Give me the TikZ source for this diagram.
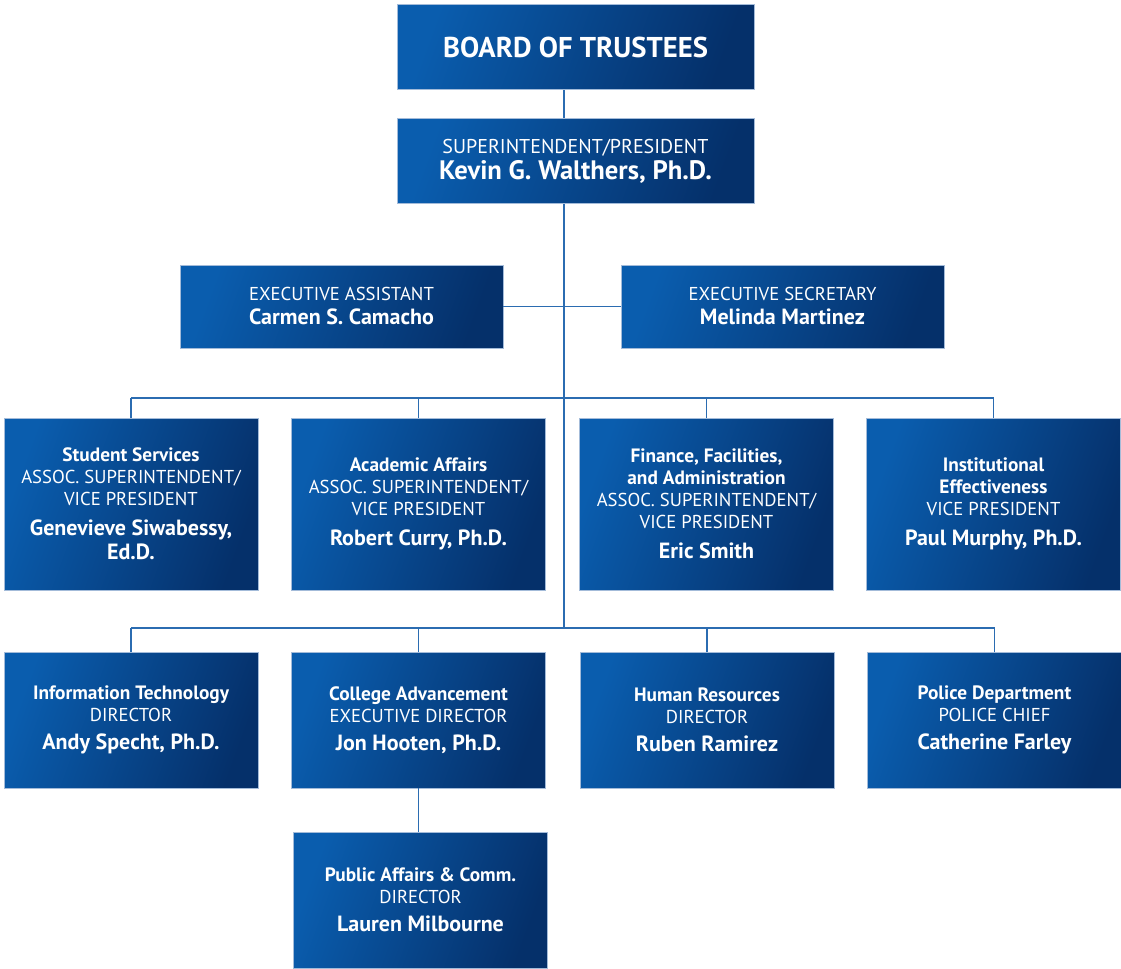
\documentclass[tikz,border=0pt]{standalone}
\usepackage{fontspec}
\setmainfont{PT Sans}
\usetikzlibrary{positioning}

\definecolor{boxlight}{HTML}{0A5DAE}
\definecolor{boxdark}{HTML}{05306A}
\definecolor{boxedge}{HTML}{A3BBD9}
\definecolor{linkblue}{HTML}{2B6CB1}

\newcommand{\dept}[1]{{\fontsize{14.5}{16.5}\selectfont\bfseries #1}}
\newcommand{\who}[1]{{\fontsize{16.5}{18}\selectfont\bfseries #1}}

\begin{document}
\begin{tikzpicture}[
		x=0.75pt, y=-0.75pt,
		every node/.style={font=\fontsize{14}{16.5}\selectfont},
		unitbox/.style={
			rectangle,
			draw=boxedge,
			line width=0.5pt,
			left color=boxlight,
			right color=boxdark,
			shading angle=70,
			text=white,
			align=center,
			inner sep=0pt
		},
		topbox/.style={unitbox, minimum width=267.75pt, minimum height=64pt},
		aidebox/.style={unitbox, minimum width=242.25pt, minimum height=62.25pt},
		vpbox/.style={unitbox, minimum width=190.5pt, minimum height=129pt},
		dirbox/.style={unitbox, minimum width=190.5pt, minimum height=102pt},
		link/.style={draw=linkblue, line width=1.4pt}
		]
		
		\useasboundingbox (0,0) rectangle (1121,968);
		
		% Nodes
		\node[topbox] (board) at (575.5,47) {\fontsize{21.5}{24}\selectfont\bfseries BOARD OF TRUSTEES};
		
		\node[topbox] (president) at (575.5,161) {{\fontsize{15}{17}\selectfont SUPERINTENDENT/PRESIDENT}\\[3pt]
			{\fontsize{20}{22}\selectfont\bfseries Kevin G. Walthers, Ph.D.}};
		
		\node[aidebox] (assistant) at (341.5,306.5) {EXECUTIVE ASSISTANT\\[1.5pt] \who{Carmen S. Camacho}};
		\node[aidebox] (secretary) at (782.5,306.5) {EXECUTIVE SECRETARY\\[1.5pt] \who{Melinda Martinez}};
		
		\node[vpbox] (students) at (131,504) {\dept{Student Services}\\ ASSOC. SUPERINTENDENT/\\ VICE PRESIDENT\\[6pt]
			\who{Genevieve Siwabessy,}\\[1.5pt] \who{Ed.D.}};
		\node[vpbox] (academic) at (418.5,504) {\dept{Academic Affairs}\\ ASSOC. SUPERINTENDENT/\\ VICE PRESIDENT\\[6pt]
			\who{Robert Curry, Ph.D.}};
		\node[vpbox] (finance) at (706.5,504) {\dept{Finance, Facilities,}\\ \dept{and Administration}\\ ASSOC. SUPERINTENDENT/\\ VICE PRESIDENT\\[6pt]
			\who{Eric Smith}};
		\node[vpbox] (research) at (993.5,504) {\dept{Institutional}\\ \dept{Effectiveness}\\ VICE PRESIDENT\\[6pt]
			\who{Paul Murphy, Ph.D.}};
		
		\node[dirbox] (tech) at (131,720) {\dept{Information Technology}\\ DIRECTOR\\[4.5pt] \who{Andy Specht, Ph.D.}};
		\node[dirbox] (advance) at (418.5,720) {\dept{College Advancement}\\ EXECUTIVE DIRECTOR\\[4.5pt] \who{Jon Hooten, Ph.D.}};
		\node[dirbox] (people) at (707,720) {\dept{Human Resources}\\ DIRECTOR\\[4.5pt] \who{Ruben Ramirez}};
		\node[dirbox] (police) at (994.5,720) {\dept{Police Department}\\ POLICE CHIEF\\[4.5pt] \who{Catherine Farley}};
		
		\node[dirbox] (comms) at (420.5,900) {\dept{Public Affairs \& Comm.}\\ DIRECTOR\\[4.5pt] \who{Lauren Milbourne}};
		
		% Trunk and branch rails
		\coordinate (trunk) at (564,0);
		\coordinate (rail1) at (0,398);
		\coordinate (rail2) at (0,628);
		
		% Connectors
		\draw[link] (board.south -| trunk) -- (president.north -| trunk);
		\draw[link] (president.south -| trunk) -- (rail2 -| trunk);
		\draw[link] (assistant.east) -- (secretary.west);
		
		\draw[link] (rail1 -| students.north) -- (rail1 -| research.north);
		\foreach \unit in {students, academic, finance, research}
			\draw[link] (rail1 -| \unit.north) -- (\unit.north);
		
		\draw[link] (rail2 -| tech.north) -- (rail2 -| police.north);
		\foreach \unit in {tech, advance, people, police}
			\draw[link] (rail2 -| \unit.north) -- (\unit.north);
		
		\draw[link] (advance.south) -- (advance.south |- comms.north);
		
\end{tikzpicture}
\end{document}
